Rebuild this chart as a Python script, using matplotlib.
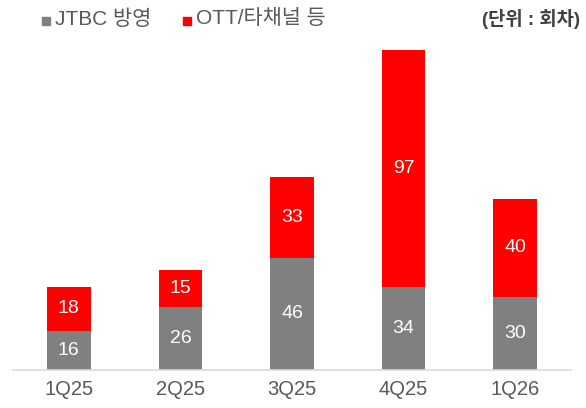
import matplotlib
matplotlib.use("Agg")
import matplotlib.pyplot as plt
from matplotlib.patches import Rectangle

plt.rcParams['font.family'] = ['Liberation Sans', 'Noto Sans CJK KR', 'DejaVu Sans']

categories = ["1Q25", "2Q25", "3Q25", "4Q25", "1Q26"]
jtbc = [16, 26, 46, 34, 30]
ott = [18, 15, 33, 97, 40]
series_names = ["JTBC 방영", "OTT/타채널 등"]
unit_label = "(단위 : 회차)"

gray = "#808080"
red = "#ff0000"

W, H = 586, 408
fig = plt.figure(figsize=(W/100, H/100), dpi=100)
ax = fig.add_axes([13/W, (H-370)/H, 558/W, 340/H])

x = range(len(categories))
bw = 0.39
ax.bar(x, jtbc, bw, color=gray)
ax.bar(x, ott, bw, bottom=jtbc, color=red)

for i in x:
    ax.text(i, jtbc[i]/2, str(jtbc[i]), ha='center', va='center', color='white', fontsize=14)
    ax.text(i, jtbc[i] + ott[i]/2, str(ott[i]), ha='center', va='center', color='white', fontsize=14)

ax.set_xlim(-0.5, len(categories)-0.5)
ax.set_ylim(0, 139.3)
ax.set_yticks([])
ax.set_xticks(list(x))
ax.set_xticklabels(categories, fontsize=14.5, color="#595959")
ax.tick_params(axis='x', length=0, pad=7)
for s in ['top', 'right', 'left']:
    ax.spines[s].set_visible(False)
ax.spines['bottom'].set_color('#d9d9d9')
ax.spines['bottom'].set_linewidth(1.2)

# legend
fig.patches.append(Rectangle((42/W, 1-25/H), 8/W, 8/H, transform=fig.transFigure, color=gray))
fig.text(55/W, 1-19/H, series_names[0], fontsize=15, color="#595959", va='center', ha='left')
fig.patches.append(Rectangle((183/W, 1-25/H), 8/W, 8/H, transform=fig.transFigure, color=red))
fig.text(196/W, 1-19/H, series_names[1], fontsize=15, color="#595959", va='center', ha='left')
fig.text(580/W, 1-19/H, unit_label, fontsize=13.5, color="#404040", va='center', ha='right', fontweight='bold')

fig.savefig("out.png", dpi=100)
